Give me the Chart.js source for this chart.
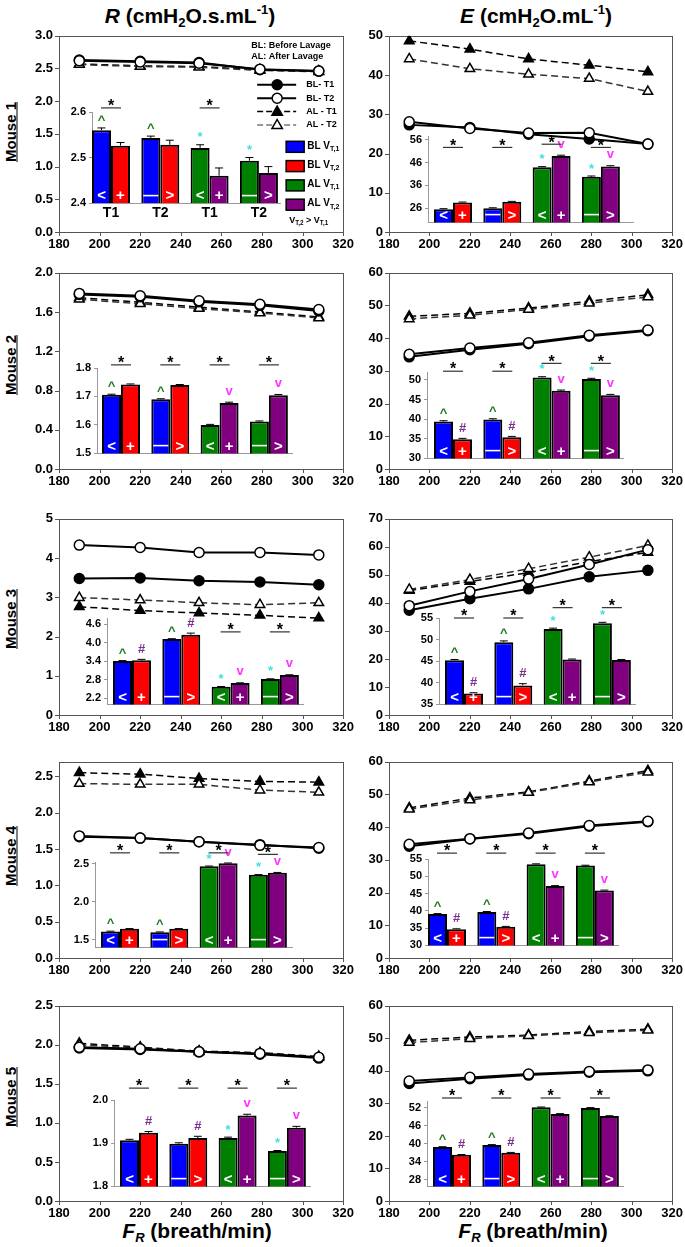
<!DOCTYPE html>
<html>
<head>
<meta charset="utf-8">
<script src="https://cdn.jsdelivr.net/npm/chart.js@4"></script>
<style>
  body { margin: 0; background: #fff; width: 685px; height: 1247px; position: relative; overflow: hidden;
         font-family: "Liberation Sans", Arial, sans-serif; }
  canvas { position: absolute; }
  .hdr { position: absolute; top: 2px; transform: translateX(-50%); font-weight: bold; font-size: 21px; white-space: nowrap; }
  .hdr sub, .xt sub { font-size: 0.62em; vertical-align: -0.3em; }
  .hdr sup { font-size: 0.62em; vertical-align: 0.7em; }
  .mouse { position: absolute; left: 10px; transform: translate(-50%, -50%) rotate(-90deg); font-weight: bold;
           font-size: 15px; text-decoration: underline; white-space: nowrap; }
  .xt { position: absolute; top: 1219px; transform: translateX(-50%); font-weight: bold; font-size: 21px; white-space: nowrap; }
</style>
</head>
<body>
<div class="hdr" style="left:190px"><i>R</i> (cmH<sub>2</sub>O.s.mL<sup>-1</sup>)</div>
<div class="hdr" style="left:536px"><i>E</i> (cmH<sub>2</sub>O.mL<sup>-1</sup>)</div>
<div class="mouse" style="top:132px">Mouse 1</div>
<div class="mouse" style="top:365px">Mouse 2</div>
<div class="mouse" style="top:619px">Mouse 3</div>
<div class="mouse" style="top:856px">Mouse 4</div>
<div class="mouse" style="top:1097px">Mouse 5</div>
<div class="xt" style="left:197px"><i>F<sub>R</sub></i> (breath/min)</div>
<div class="xt" style="left:533px"><i>F<sub>R</sub></i> (breath/min)</div>

<script>
// shared values
const rates = [190, 220, 249, 279, 308];
const xTicks = [180, 200, 220, 240, 260, 280, 300, 320];
const groupLabels = ['T1', 'T2', 'T1', 'T2'];
const inBarV1 = ['<', '—', '<', '—'];
const inBarV2 = ['+', '>', '+', '>'];
const lineNames = ['BL- T1', 'BL- T2', 'AL - T1', 'AL - T2'];
const barNames = ['BL V', 'BL V', 'AL V', 'AL V'];
const barSubs = ['T,1', 'T,2', 'T,1', 'T,2'];

// Mouse 1 - R
const m1R_blT1 = [2.63, 2.61, 2.59, 2.48, 2.46];
const m1R_blT2 = [2.62, 2.60, 2.58, 2.49, 2.46];
const m1R_alT1 = [2.57, 2.54, 2.53, 2.48, 2.46];
const m1R_alT2 = [2.56, 2.53, 2.52, 2.47, 2.45];
const m1R_range = [0, 3];
const m1R_ticks = [0, 0.5, 1, 1.5, 2, 2.5, 3];
const m1R_v1 = [2.560, 2.543, 2.521, 2.493];
const m1R_v2 = [2.526, 2.528, 2.460, 2.466];
const m1R_e1 = [0.005, 0.004, 0.007, 0.007];
const m1R_e2 = [0.007, 0.010, 0.017, 0.014];
const m1R_inRange = [2.4, 2.6];
const m1R_inTicks = [2.4, 2.5, 2.6];
const m1R_mark1 = ['^', '^', '*', '*'];
const m1R_mark2 = ['', '', '', ''];
const m1R_sig = [2.609, null, 2.609, null];

// Mouse 1 - E
const m1E_blT1 = [27.3, 26.6, 24.9, 23.7, 22.4];
const m1E_blT2 = [28.1, 26.4, 25.2, 25.3, 22.4];
const m1E_alT1 = [48.7, 46.6, 44.1, 42.5, 40.8];
const m1E_alT2 = [44.1, 41.6, 40.2, 39.1, 35.8];
const m1E_range = [0, 50];
const m1E_ticks = [0, 10, 20, 30, 40, 50];
const m1E_v1 = [25.6, 26.0, 43.9, 39.8];
const m1E_v2 = [28.5, 28.8, 48.9, 44.3];
const m1E_e1 = [0.2, 0.2, 0.3, 0.3];
const m1E_e2 = [0.2, 0.2, 0.3, 0.3];
const m1E_inRange = [19.8, 57.6];
const m1E_inTicks = [26, 36, 46, 56];
const m1E_mark1 = ['', '', '*', '*'];
const m1E_mark2 = ['', '', 'v', 'v'];
const m1E_sig = [52.6, 52.6, 54.0, 52.6];

// Mouse 2 - R
const m2R_blT1 = [1.78, 1.757, 1.705, 1.668, 1.61];
const m2R_blT2 = [1.79, 1.766, 1.715, 1.68, 1.625];
const m2R_alT1 = [1.745, 1.70, 1.65, 1.60, 1.55];
const m2R_alT2 = [1.73, 1.685, 1.635, 1.59, 1.54];
const m2R_range = [0, 2];
const m2R_ticks = [0, 0.4, 0.8, 1.2, 1.6, 2.0];
const m2R_v1 = [1.706, 1.690, 1.600, 1.612];
const m2R_v2 = [1.742, 1.740, 1.677, 1.704];
const m2R_e1 = [0.002, 0.002, 0.002, 0.002];
const m2R_e2 = [0.002, 0.002, 0.003, 0.003];
const m2R_inRange = [1.5, 1.8];
const m2R_inTicks = [1.5, 1.6, 1.7, 1.8];
const m2R_mark1 = ['^', '^', '', ''];
const m2R_mark2 = ['', '', 'v', 'v'];
const m2R_sig = [1.811, 1.811, 1.811, 1.811];

// Mouse 2 - E
const m2E_blT1 = [34.3, 36.5, 38.3, 40.6, 42.3];
const m2E_blT2 = [35.1, 37.0, 38.6, 40.9, 42.5];
const m2E_alT1 = [46.7, 47.6, 49.2, 51.3, 53.3];
const m2E_alT2 = [45.9, 47.0, 48.8, 50.7, 52.6];
const m2E_range = [0, 60];
const m2E_ticks = [0, 10, 20, 30, 40, 50, 60];
const m2E_v1 = [39.4, 39.9, 50.6, 50.2];
const m2E_v2 = [34.9, 35.4, 47.2, 46.1];
const m2E_e1 = [0.2, 0.2, 0.2, 0.2];
const m2E_e2 = [0.2, 0.2, 0.2, 0.2];
const m2E_inRange = [30, 52];
const m2E_inTicks = [30, 35, 40, 45, 50];
const m2E_mark1 = ['^', '^', '*', '*'];
const m2E_mark2 = ['#', '#', 'v', 'v'];
const m2E_sig = [52.2, 52.2, 54.2, 54.2];

// Mouse 3 - R
const m3R_blT1 = [3.48, 3.49, 3.42, 3.39, 3.32];
const m3R_blT2 = [4.33, 4.27, 4.14, 4.14, 4.08];
const m3R_alT1 = [2.76, 2.66, 2.60, 2.54, 2.47];
const m3R_alT2 = [2.99, 2.93, 2.86, 2.81, 2.86];
const m3R_range = [0, 5];
const m3R_ticks = [0, 1, 2, 3, 4, 5];
const m3R_v1 = [3.41, 4.12, 2.57, 2.82];
const m3R_v2 = [3.43, 4.26, 2.69, 2.95];
const m3R_e1 = [0.01, 0.01, 0.01, 0.01];
const m3R_e2 = [0.03, 0.05, 0.01, 0.01];
const m3R_inRange = [2.0, 4.8];
const m3R_inTicks = [2.2, 2.8, 3.4, 4.0, 4.6];
const m3R_mark1 = ['^', '^', '*', '*'];
const m3R_mark2 = ['#', '#', 'v', 'v'];
const m3R_sig = [null, null, 4.35, 4.35];

// Mouse 3 - E
const m3E_blT1 = [37.4, 41.5, 45.0, 49.3, 51.6];
const m3E_blT2 = [39.0, 44.1, 48.5, 53.7, 59.0];
const m3E_alT1 = [44.4, 47.6, 50.8, 54.7, 58.0];
const m3E_alT2 = [44.8, 48.3, 52.2, 56.3, 60.5];
const m3E_range = [0, 70];
const m3E_ticks = [0, 10, 20, 30, 40, 50, 60, 70];
const m3E_v1 = [45.2, 49.4, 52.45, 53.8];
const m3E_v2 = [37.5, 39.4, 45.4, 45.3];
const m3E_e1 = [0.2, 0.3, 0.2, 0.2];
const m3E_e2 = [0.2, 0.4, 0.1, 0.1];
const m3E_inRange = [35, 55];
const m3E_inTicks = [35, 40, 45, 50, 55];
const m3E_mark1 = ['^', '^', '*', '*'];
const m3E_mark2 = ['#', '#', '', ''];
const m3E_sig = [55.0, 55.0, 57.4, 57.4];

// Mouse 4 - R
const m4R_blT1 = [1.67, 1.65, 1.60, 1.56, 1.51];
const m4R_blT2 = [1.68, 1.65, 1.60, 1.55, 1.52];
const m4R_alT1 = [2.55, 2.53, 2.47, 2.43, 2.42];
const m4R_alT2 = [2.40, 2.39, 2.39, 2.31, 2.28];
const m4R_range = [0, 2.7];
const m4R_ticks = [0, 0.5, 1, 1.5, 2, 2.5];
const m4R_v1 = [1.61, 1.60, 2.464, 2.352];
const m4R_v2 = [1.644, 1.644, 2.504, 2.38];
const m4R_e1 = [0.003, 0.003, 0.003, 0.003];
const m4R_e2 = [0.003, 0.003, 0.003, 0.003];
const m4R_inRange = [1.4, 2.52];
const m4R_inTicks = [1.5, 2.0, 2.5];
const m4R_mark1 = ['^', '^', '*', '*'];
const m4R_mark2 = ['', '', 'v', 'v'];
const m4R_sig = [2.64, 2.64, 2.64, 2.62];

// Mouse 4 - E
const m4E_blT1 = [34.2, 36.4, 38.0, 40.3, 41.7];
const m4E_blT2 = [34.8, 36.5, 38.2, 40.5, 41.8];
const m4E_alT1 = [45.9, 48.9, 50.8, 54.1, 57.3];
const m4E_alT2 = [45.5, 48.3, 50.6, 53.8, 56.8];
const m4E_range = [0, 60];
const m4E_ticks = [0, 10, 20, 30, 40, 50, 60];
const m4E_v1 = [39.1, 39.7, 53.5, 53.1];
const m4E_v2 = [34.7, 35.4, 47.2, 45.9];
const m4E_e1 = [0.1, 0.1, 0.1, 0.1];
const m4E_e2 = [0.1, 0.1, 0.1, 0.1];
const m4E_inRange = [30, 55];
const m4E_inTicks = [30, 35, 40, 45, 50, 55];
const m4E_mark1 = ['^', '^', '', ''];
const m4E_mark2 = ['#', '#', 'v', 'v'];
const m4E_sig = [56.7, 56.7, 56.7, 56.7];

// Mouse 5 - R
const m5R_blT1 = [1.96, 1.94, 1.91, 1.88, 1.83];
const m5R_blT2 = [1.97, 1.95, 1.91, 1.89, 1.84];
const m5R_alT1 = [2.02, 1.97, 1.92, 1.90, 1.85];
const m5R_alT2 = [2.00, 1.96, 1.91, 1.89, 1.84];
const m5R_range = [0, 2.5];
const m5R_ticks = [0, 0.5, 1, 1.5, 2, 2.5];
const m5R_v1 = [1.907, 1.899, 1.912, 1.882];
const m5R_v2 = [1.924, 1.912, 1.964, 1.936];
const m5R_e1 = [0.002, 0.002, 0.002, 0.001];
const m5R_e2 = [0.003, 0.004, 0.003, 0.003];
const m5R_inRange = [1.8, 2.0];
const m5R_inTicks = [1.8, 1.9, 2.0];
const m5R_mark1 = ['', '', '*', '*'];
const m5R_mark2 = ['#', '#', 'v', 'v'];
const m5R_sig = [2.0275, 2.0275, 2.0275, 2.0275];

// Mouse 5 - E
const m5E_blT1 = [36.1, 37.6, 38.7, 39.6, 40.0];
const m5E_blT2 = [36.9, 38.0, 39.0, 39.8, 40.3];
const m5E_alT1 = [49.4, 50.4, 51.0, 52.1, 52.8];
const m5E_alT2 = [48.7, 49.9, 50.8, 51.7, 52.5];
const m5E_range = [0, 60];
const m5E_ticks = [0, 10, 20, 30, 40, 50, 60];
const m5E_v1 = [38.9, 39.6, 52.1, 51.9];
const m5E_v2 = [36.3, 37.0, 49.9, 49.2];
const m5E_e1 = [0.1, 0.1, 0.1, 0.1];
const m5E_e2 = [0.1, 0.1, 0.1, 0.1];
const m5E_inRange = [25.8, 54.2];
const m5E_inTicks = [28, 34, 40, 46, 52];
const m5E_mark1 = ['^', '^', '', ''];
const m5E_mark2 = ['#', '#', '', ''];
const m5E_sig = [55.2, 55.2, 55.2, 55.2];

const panels = [
  { bl1: m1R_blT1, bl2: m1R_blT2, al1: m1R_alT1, al2: m1R_alT2, range: m1R_range, ticks: m1R_ticks, v1: m1R_v1, v2: m1R_v2, e1: m1R_e1, e2: m1R_e2, inRange: m1R_inRange, inTicks: m1R_inTicks, mark1: m1R_mark1, mark2: m1R_mark2, sig: m1R_sig },
  { bl1: m1E_blT1, bl2: m1E_blT2, al1: m1E_alT1, al2: m1E_alT2, range: m1E_range, ticks: m1E_ticks, v1: m1E_v1, v2: m1E_v2, e1: m1E_e1, e2: m1E_e2, inRange: m1E_inRange, inTicks: m1E_inTicks, mark1: m1E_mark1, mark2: m1E_mark2, sig: m1E_sig },
  { bl1: m2R_blT1, bl2: m2R_blT2, al1: m2R_alT1, al2: m2R_alT2, range: m2R_range, ticks: m2R_ticks, v1: m2R_v1, v2: m2R_v2, e1: m2R_e1, e2: m2R_e2, inRange: m2R_inRange, inTicks: m2R_inTicks, mark1: m2R_mark1, mark2: m2R_mark2, sig: m2R_sig },
  { bl1: m2E_blT1, bl2: m2E_blT2, al1: m2E_alT1, al2: m2E_alT2, range: m2E_range, ticks: m2E_ticks, v1: m2E_v1, v2: m2E_v2, e1: m2E_e1, e2: m2E_e2, inRange: m2E_inRange, inTicks: m2E_inTicks, mark1: m2E_mark1, mark2: m2E_mark2, sig: m2E_sig },
  { bl1: m3R_blT1, bl2: m3R_blT2, al1: m3R_alT1, al2: m3R_alT2, range: m3R_range, ticks: m3R_ticks, v1: m3R_v1, v2: m3R_v2, e1: m3R_e1, e2: m3R_e2, inRange: m3R_inRange, inTicks: m3R_inTicks, mark1: m3R_mark1, mark2: m3R_mark2, sig: m3R_sig },
  { bl1: m3E_blT1, bl2: m3E_blT2, al1: m3E_alT1, al2: m3E_alT2, range: m3E_range, ticks: m3E_ticks, v1: m3E_v1, v2: m3E_v2, e1: m3E_e1, e2: m3E_e2, inRange: m3E_inRange, inTicks: m3E_inTicks, mark1: m3E_mark1, mark2: m3E_mark2, sig: m3E_sig },
  { bl1: m4R_blT1, bl2: m4R_blT2, al1: m4R_alT1, al2: m4R_alT2, range: m4R_range, ticks: m4R_ticks, v1: m4R_v1, v2: m4R_v2, e1: m4R_e1, e2: m4R_e2, inRange: m4R_inRange, inTicks: m4R_inTicks, mark1: m4R_mark1, mark2: m4R_mark2, sig: m4R_sig },
  { bl1: m4E_blT1, bl2: m4E_blT2, al1: m4E_alT1, al2: m4E_alT2, range: m4E_range, ticks: m4E_ticks, v1: m4E_v1, v2: m4E_v2, e1: m4E_e1, e2: m4E_e2, inRange: m4E_inRange, inTicks: m4E_inTicks, mark1: m4E_mark1, mark2: m4E_mark2, sig: m4E_sig },
  { bl1: m5R_blT1, bl2: m5R_blT2, al1: m5R_alT1, al2: m5R_alT2, range: m5R_range, ticks: m5R_ticks, v1: m5R_v1, v2: m5R_v2, e1: m5R_e1, e2: m5R_e2, inRange: m5R_inRange, inTicks: m5R_inTicks, mark1: m5R_mark1, mark2: m5R_mark2, sig: m5R_sig },
  { bl1: m5E_blT1, bl2: m5E_blT2, al1: m5E_alT1, al2: m5E_alT2, range: m5E_range, ticks: m5E_ticks, v1: m5E_v1, v2: m5E_v2, e1: m5E_e1, e2: m5E_e2, inRange: m5E_inRange, inTicks: m5E_inTicks, mark1: m5E_mark1, mark2: m5E_mark2, sig: m5E_sig }
];

// layout (page pixels)
const colX = [[59, 344], [389, 673]];
const rowY = [[32, 232], [269, 469], [515, 715], [758, 958], [1002, 1201]];
// inset: axis x, right end, top, bottom, gap before first bar
const insetBoxes = [
  [92, 280, 112, 203, 0], [428, 633, 136, 228, 6],
  [97, 292, 368, 459, 5], [427, 623, 372, 464, 7],
  [107, 303, 618, 710, 6], [439, 635, 618, 710, 6],
  [95, 292, 862, 953, 6], [428, 618, 859, 951, 0],
  [114, 310, 1100, 1192, 6], [427, 623, 1101, 1192, 6]
];

const FONT = '"Liberation Sans", Arial, sans-serif';
Chart.defaults.font.family = FONT;
Chart.defaults.font.weight = 'bold';
Chart.defaults.color = '#000';

const colorsV1 = ['#0000ff', '#0000ff', '#008000', '#008000'];
const colorsV2 = ['#ff0000', '#ff0000', '#800080', '#800080'];
const markColor = { '^': '#1f7a1f', '#': '#7b2f8e', '*': '#40e0e0', 'v': '#ff33ff' };
const glyphLift = { '*': 0.58, '^': 0.55, 'v': 0.27, '#': 0.36, '<': 0.36, '>': 0.36, '+': 0.36, '—': 0.30 };

// drawing order: BL-T2, BL-T1, AL-T2, AL-T1 (first one ends up on top)
const lineStyles = [
  { shape: 'circle', fill: '#fff', dash: [], color: '#000', width: 2 },
  { shape: 'circle', fill: '#000', dash: [], color: '#000', width: 2 },
  { shape: 'triangle', fill: '#fff', dash: [7, 4], color: '#333', width: 1.5 },
  { shape: 'triangle', fill: '#000', dash: [7, 4], color: '#000', width: 1.5 }
];

function makeCanvas(left, top, w, h) {
  const c = document.createElement('canvas');
  c.width = w;
  c.height = h;
  c.style.left = left + 'px';
  c.style.top = top + 'px';
  document.body.appendChild(c);
  return c;
}

function decimals(ticks) {
  return ticks.some(v => Math.abs(v % 1) > 1e-9) ? 1 : 0;
}

function glyph(ctx, ch, x, cy, size, color) {
  ctx.font = `bold ${size}px ${FONT}`;
  ctx.fillStyle = color;
  ctx.fillText(ch, x, cy + (glyphLift[ch] || 0.36) * size);
}

function subText(ctx, x, y, main, sub, size) {
  ctx.font = `bold ${size}px ${FONT}`;
  ctx.fillText(main, x, y);
  const w = ctx.measureText(main).width;
  ctx.font = `bold ${size * 0.7}px ${FONT}`;
  ctx.fillText(sub, x + w, y + size * 0.3);
  return x + w + ctx.measureText(sub).width;
}

function marker(ctx, shape, x, y, r, fill) {
  ctx.beginPath();
  if (shape === 'circle') {
    ctx.arc(x, y, r, 0, Math.PI * 2);
  } else {
    ctx.moveTo(x, y - r);
    ctx.lineTo(x + r * 0.95, y + r * 0.65);
    ctx.lineTo(x - r * 0.95, y + r * 0.65);
    ctx.closePath();
  }
  ctx.setLineDash([]);
  ctx.fillStyle = fill;
  ctx.fill();
  ctx.lineWidth = 1.5;
  ctx.strokeStyle = '#000';
  ctx.stroke();
}

// box round the plot area with small outward ticks
const framePlugin = {
  id: 'frame',
  beforeDatasetsDraw(chart) {
    const { ctx, chartArea: a, scales: { x, y } } = chart;
    ctx.save();
    ctx.strokeStyle = '#555';
    ctx.lineWidth = 1;
    ctx.strokeRect(Math.round(a.left) + 0.5, Math.round(a.top) + 0.5, Math.round(a.width), Math.round(a.height));
    ctx.beginPath();
    x.ticks.forEach(t => {
      const px = Math.round(x.getPixelForValue(t.value)) + 0.5;
      ctx.moveTo(px, a.bottom);
      ctx.lineTo(px, a.bottom + 4);
    });
    y.ticks.forEach(t => {
      const py = Math.round(y.getPixelForValue(t.value)) + 0.5;
      ctx.moveTo(a.left, py);
      ctx.lineTo(a.left - 4, py);
    });
    ctx.stroke();
    ctx.restore();
  }
};

// legends shown only in the Mouse 1 R panel
const legendPlugin = {
  id: 'm1Legend',
  afterDraw(chart) {
    const { ctx, chartArea: a } = chart;
    ctx.save();
    ctx.textAlign = 'left';
    ctx.textBaseline = 'middle';
    ctx.fillStyle = '#000';
    ctx.font = `bold 9px ${FONT}`;
    ctx.fillText('BL: Before Lavage', a.right - 92, a.top + 10);
    ctx.fillText('AL: After Lavage', a.right - 92, a.top + 21);

    const order = [1, 0, 3, 2]; // BL-T1, BL-T2, AL-T1, AL-T2
    lineNames.forEach((name, i) => {
      const st = lineStyles[order[i]];
      const y = a.top + 49 + i * 13.4;
      ctx.strokeStyle = i === 3 ? '#777' : '#000';
      ctx.lineWidth = st.width;
      ctx.setLineDash(st.dash.length ? [6, 3] : []);
      ctx.beginPath();
      ctx.moveTo(a.right - 86, y);
      ctx.lineTo(a.right - 47, y);
      ctx.stroke();
      marker(ctx, st.shape, a.right - 66, y, st.shape === 'circle' ? 5 : 5.5, st.fill);
      ctx.fillStyle = '#000';
      ctx.font = `bold 9px ${FONT}`;
      ctx.fillText(name, a.right - 37, y);
    });

    const boxColors = [colorsV1[0], colorsV2[0], colorsV1[2], colorsV2[2]];
    barNames.forEach((name, i) => {
      const y = a.top + 111 + i * 19.3;
      ctx.fillStyle = boxColors[i];
      ctx.fillRect(a.right - 57, y - 5.5, 18, 11);
      ctx.strokeStyle = '#000';
      ctx.lineWidth = 1.5;
      ctx.strokeRect(a.right - 57, y - 5.5, 18, 11);
      ctx.fillStyle = '#000';
      subText(ctx, a.right - 36, y - 1, name, barSubs[i], 10);
    });
    let x = subText(ctx, a.right - 54, a.top + 185, 'V', barSubs[1], 9);
    x = subText(ctx, x, a.top + 185, ' > V', barSubs[0], 9);
    ctx.restore();
  }
};

function drawLinePanel(p, xs, ys, withLegend) {
  const padL = 45, padT = 10, padR = 15, axH = 22;
  const canvas = makeCanvas(xs[0] - padL, ys[0] - padT, xs[1] - xs[0] + padL + padR, ys[1] - ys[0] + padT + axH);
  const series = [p.bl2, p.bl1, p.al2, p.al1];
  const dec = decimals(p.ticks);
  new Chart(canvas, {
    type: 'line',
    data: {
      datasets: series.map((vals, i) => {
        const st = lineStyles[i];
        return {
          data: rates.map((x, j) => ({ x, y: vals[j] })),
          borderColor: st.color,
          borderWidth: st.width,
          borderDash: st.dash,
          pointStyle: st.shape,
          pointRadius: st.shape === 'triangle' ? 5.5 : 5,
          pointBackgroundColor: st.fill,
          pointBorderColor: '#000',
          pointBorderWidth: 1.5,
          fill: false,
          tension: 0
        };
      })
    },
    options: {
      responsive: false,
      animation: false,
      layout: { padding: { top: padT, right: padR, left: 0, bottom: 0 } },
      plugins: { legend: { display: false }, tooltip: { enabled: false } },
      scales: {
        x: {
          type: 'linear', min: 180, max: 320,
          grid: { display: false, drawTicks: false }, border: { display: false },
          afterBuildTicks: s => { s.ticks = xTicks.map(v => ({ value: v })); },
          afterFit: s => { s.height = axH; },
          ticks: { font: { size: 13 }, padding: 5, maxRotation: 0, autoSkip: false }
        },
        y: {
          min: p.range[0], max: p.range[1],
          grid: { display: false, drawTicks: false }, border: { display: false },
          afterBuildTicks: s => { s.ticks = p.ticks.map(v => ({ value: v })); },
          afterFit: s => { s.width = padL; },
          ticks: { font: { size: 13 }, padding: 6, callback: v => Number(v).toFixed(dec) }
        }
      }
    },
    plugins: withLegend ? [framePlugin, legendPlugin] : [framePlugin]
  });
}

function insetPlugin(p) {
  return {
    id: 'insetMarks',
    afterDatasetsDraw(chart) {
      const { ctx, chartArea: a, scales: { y } } = chart;
      ctx.save();
      ctx.textAlign = 'center';
      ctx.textBaseline = 'alphabetic';
      chart.data.datasets.forEach((ds, di) => {
        chart.getDatasetMeta(di).data.forEach((bar, i) => {
          const top = y.getPixelForValue(ds.data[i].y + ds.err[i]);
          ctx.strokeStyle = '#000';
          ctx.lineWidth = 1;
          ctx.beginPath();
          ctx.moveTo(bar.x, bar.y);
          ctx.lineTo(bar.x, top);
          ctx.moveTo(bar.x - 4, top);
          ctx.lineTo(bar.x + 4, top);
          ctx.stroke();
          glyph(ctx, ds.inner[i], bar.x, a.bottom - 8, 15, '#fff');
          const m = ds.marks[i];
          if (m) glyph(ctx, m, bar.x, Math.min(top, bar.y) - 11, 13, markColor[m]);
        });
      });
      const b0 = chart.getDatasetMeta(0).data, b1 = chart.getDatasetMeta(1).data;
      p.sig.forEach((v, i) => {
        if (v == null) return;
        const cx = (b0[i].x + b1[i].x) / 2;
        const ly = y.getPixelForValue(v);
        ctx.strokeStyle = '#333';
        ctx.lineWidth = 1.2;
        ctx.beginPath();
        ctx.moveTo(cx - 10, ly);
        ctx.lineTo(cx + 10, ly);
        ctx.stroke();
        glyph(ctx, '*', cx, ly - 6, 16, '#000');
      });
      ctx.restore();
    }
  };
}

function drawInset(p, box, showLabels) {
  const [x0, x1, y0, y1, lead] = box;
  const padL = 30, padT = 34, axH = showLabels ? 18 : 4;
  const W = x1 - x0, step = 49.3, halfGroup = 19;
  const xMin = 1 - (lead + halfGroup) / step;
  const xMax = xMin + W / step;
  const dec = decimals(p.inTicks);
  const canvas = makeCanvas(x0 - padL, y0 - padT, W + padL + 2, y1 - y0 + padT + axH);
  const barSet = (vals, err, colors, marks, inner) => ({
    data: vals.map((v, i) => ({ x: i + 1, y: v })),
    err, marks, inner,
    backgroundColor: colors,
    borderColor: '#000',
    borderWidth: 2,
    borderSkipped: false,
    categoryPercentage: 0.77,
    barPercentage: 1
  });
  new Chart(canvas, {
    type: 'bar',
    data: {
      datasets: [
        barSet(p.v1, p.e1, colorsV1, p.mark1, inBarV1),
        barSet(p.v2, p.e2, colorsV2, p.mark2, inBarV2)
      ]
    },
    options: {
      responsive: false,
      animation: false,
      layout: { padding: { top: padT, right: 2, left: 0, bottom: 0 } },
      plugins: { legend: { display: false }, tooltip: { enabled: false } },
      scales: {
        x: {
          type: 'linear', offset: false, min: xMin, max: xMax,
          grid: { display: false, drawTicks: false }, border: { color: '#999', width: 1 },
          afterBuildTicks: s => { s.ticks = groupLabels.map((_, i) => ({ value: i + 1 })); },
          afterFit: s => { s.height = axH; },
          ticks: { display: showLabels, autoSkip: false, maxRotation: 0, padding: 2, font: { size: 14 },
                   callback: v => groupLabels[Math.round(v) - 1] }
        },
        y: {
          min: p.inRange[0], max: p.inRange[1], beginAtZero: false,
          grid: { display: true, drawOnChartArea: false, drawTicks: true, tickLength: 3, color: '#999' },
          border: { color: '#999', width: 1 },
          afterBuildTicks: s => { s.ticks = p.inTicks.map(v => ({ value: v })); },
          afterFit: s => { s.width = padL; },
          ticks: { font: { size: 11 }, padding: 3, callback: v => Number(v).toFixed(dec) }
        }
      }
    },
    plugins: [insetPlugin(p)]
  });
}

panels.forEach((p, k) => {
  const row = Math.floor(k / 2), col = k % 2;
  drawLinePanel(p, colX[col], rowY[row], k === 0);
  drawInset(p, insetBoxes[k], k === 0);
});
</script>
</body>
</html>
